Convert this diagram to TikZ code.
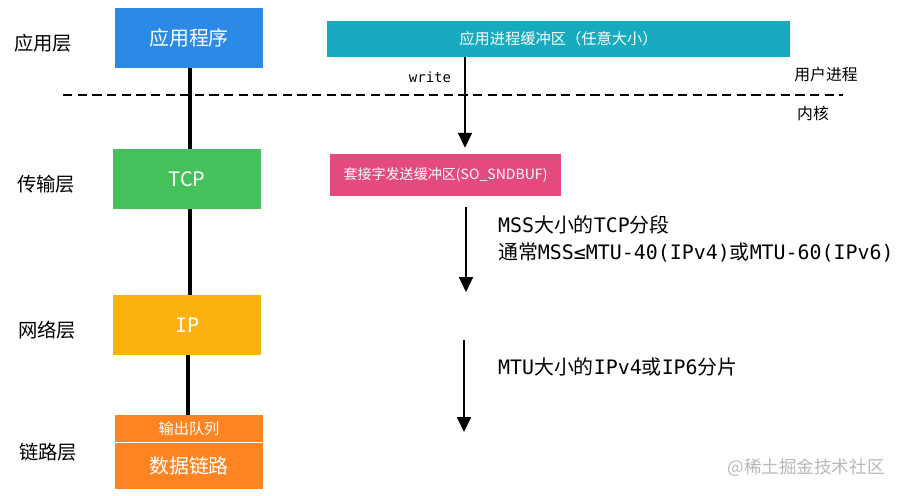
\documentclass[tikz,border=0pt]{standalone}
\usepackage{fontspec}
\setmainfont{Noto Sans CJK SC}
\newfontfamily\monofont{DejaVu Sans Mono}
\usetikzlibrary{arrows.meta}
\definecolor{appBlue}{HTML}{2A8AE6}
\definecolor{tcpGreen}{HTML}{45C15B}
\definecolor{ipYellow}{HTML}{FBB20F}
\definecolor{linkOrange}{HTML}{FD8420}
\definecolor{bufTeal}{HTML}{18AABF}
\definecolor{sockPink}{HTML}{E54A7C}

\begin{document}
\begin{tikzpicture}[x=0.03cm, y=-0.03cm,
    layerbox/.style={minimum width=4.44cm, minimum height=1.8cm, inner sep=0pt, text=white, font=\fontsize{17}{20}\selectfont},
    layername/.style={font=\fontsize{16.5}{20}\selectfont},
    side/.style={font=\fontsize{13.5}{16}\selectfont},
    stack/.style={line width=3.4pt},
    flow/.style={line width=1.5pt, -{Triangle[length=0.45cm, width=0.42cm]}},
    note/.style={anchor=west, align=left, font=\fontsize{17}{23}\selectfont}]
    \useasboundingbox (0,0) rectangle (903,495);

    % layer names
    \node[layername] (l1) at (43,43) {应用层};
    \node[layername] (l2) at (46,184) {传输层};
    \node[layername] (l3) at (47,330) {网络层};
    \node[layername] (l4) at (48,452) {链路层};

    % protocol stack
    \node[layerbox, fill=appBlue] (app) at (189,38) {应用程序};
    \node[layerbox, fill=tcpGreen] (tcp) at (187,179) {TCP};
    \node[layerbox, fill=ipYellow] (ip) at (187,325) {\monofont IP};
    \node[layerbox, fill=linkOrange, minimum height=0.8cm, font=\fontsize{13}{16}\selectfont] (queue) at (189,428.3) {输出队列};
    \node[layerbox, fill=linkOrange, minimum height=1.4cm] (dlink) at (189,466) {数据链路};

    \draw[stack] (app.south -| 190,0) -- (tcp.north -| 190,0);
    \draw[stack] (tcp.south -| 190,0) -- (ip.north -| 190,0);
    \draw[stack] (ip.south -| 188,0) -- (queue.north -| 188,0);

    % user / kernel boundary
    \coordinate (cutL) at (63,95);
    \coordinate (cutR) at (843,95);
    \draw[line width=2.5pt, dash pattern=on 8pt off 4.5pt] (cutL) -- (cutR);
    \node[side] (user) at (826,74) {用户进程};
    \node[side] (kern) at (813,113) {内核};

    % buffers
    \node[fill=bufTeal, text=white, minimum width=13.89cm, minimum height=1.08cm, inner sep=0pt, font=\fontsize{13}{16}\selectfont] (appbuf) at (558.5,39) {应用进程缓冲区（任意大小）};
    \node[fill=sockPink, text=white, minimum width=6.93cm, minimum height=1.26cm, inner sep=0pt, font=\fontsize{12}{15}\selectfont] (sndbuf) at (445.5,175) {套接字发送缓冲区(SO\_SNDBUF)};

    \coordinate (wx) at (465,0);
    \draw[flow, shorten >=0.18cm] (appbuf.south -| wx) -- (sndbuf.north -| wx);
    \node[font=\monofont\fontsize{12}{14}\selectfont] (write) at (430,77) {write};

    \coordinate (seg1) at (466,207);
    \coordinate (seg2) at (466,292);
    \draw[flow] (seg1) -- (seg2);
    \node[note] (mss) at (494,238.5) {{\monofont MSS}大小的{\monofont TCP}分段\\通常{\monofont MSS≤MTU-40(IPv4)}或{\monofont MTU-60(IPv6)}};

    \coordinate (frag1) at (464,340);
    \coordinate (frag2) at (464,432);
    \draw[flow] (frag1) -- (frag2);
    \node[note] (mtu) at (494,367) {{\monofont MTU}大小的{\monofont IPv4}或{\monofont IP6}分片};

    \node[text=black!28, font=\fontsize{15}{18}\selectfont] (mark) at (806,468) {@稀土掘金技术社区};
\end{tikzpicture}
\end{document}
